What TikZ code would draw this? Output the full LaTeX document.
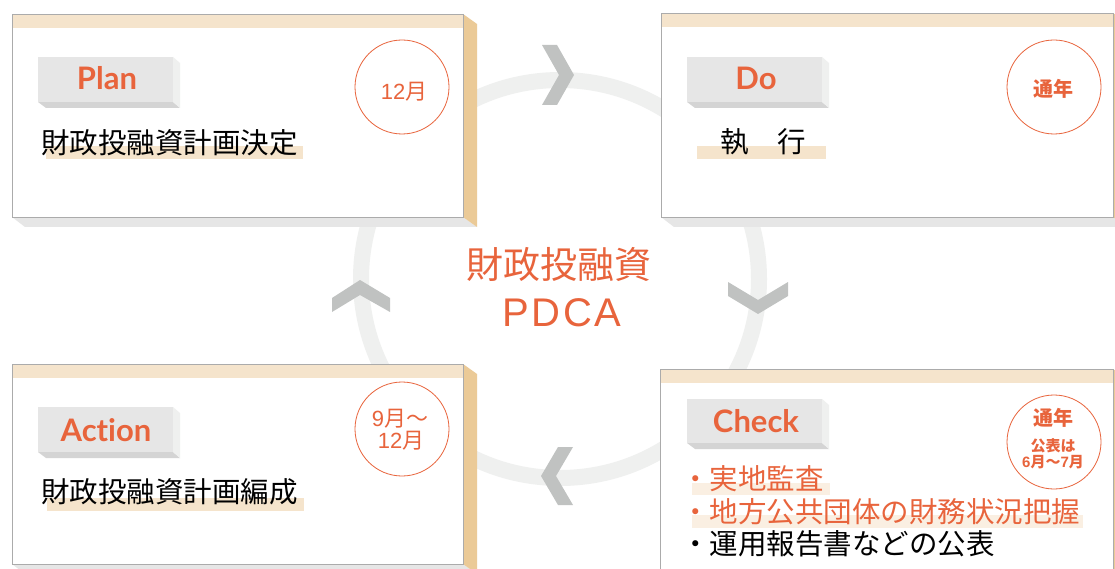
\documentclass[tikz,border=0pt]{standalone}
\usepackage{fontspec}
\newfontfamily\jp{Noto Sans CJK JP}
\newfontfamily\lab{Lato}[Ligatures=NoCommon]
\newfontfamily\wide{Liberation Sans}
\definecolor{org}{HTML}{E8643C}
\definecolor{band}{HTML}{F5E4CC}
\definecolor{bandlight}{HTML}{FAEFE2}
\definecolor{sidebeige}{HTML}{EBCA97}
\definecolor{shadowgray}{HTML}{E6E6E6}
\definecolor{tabgray}{HTML}{E6E6E6}
\definecolor{tabside}{HTML}{EFF0EF}
\definecolor{tabbottom}{HTML}{D4D4D4}
\definecolor{ringgray}{HTML}{EFF0EF}
\definecolor{chevgray}{HTML}{C0C2C1}
\definecolor{bordergray}{HTML}{ABABAB}
\newcommand\pdcacard[4]{%
  \fill[shadowgray] (#1,#4) -- (#3,#4) -- (#3+14,#4+10) -- (#1+13,#4+10) -- cycle;
  \fill[sidebeige] (#3,#2) -- (#3+14,#2+10) -- (#3+14,#4+10) -- (#3,#4) -- cycle;
  \fill[white] (#1,#2) rectangle (#3,#4);
  \fill[band] (#1,#2) rectangle (#3,#2+14);
  \draw[bordergray, line width=0.9pt] (#1,#2) rectangle (#3,#4);
}
\newcommand\pdcatab[4]{%
  \fill[tabbottom] (#1,#4) -- (#3,#4) -- (#3+7,#4+6) -- (#1+8,#4+6) -- cycle;
  \fill[tabside] (#3,#2) -- (#3+7,#2+6) -- (#3+7,#4+6) -- (#3,#4) -- cycle;
  \fill[tabgray] (#1,#2) rectangle (#3,#4);
}
\begin{document}
\begin{tikzpicture}[x=1pt,y=-1pt,
  labtext/.style={font=\lab\bfseries\fontsize{31}{32}\selectfont, text=org, inner sep=0pt, anchor=base},
  maintext/.style={font=\jp\fontsize{28.5}{30}\selectfont, text=black, inner sep=0pt, anchor=west},
  ring/.style={draw=org, circle, minimum size=94pt, line width=0.8pt, inner sep=0pt},
  circtext/.style={font=\jp\fontsize{22}{23}\selectfont, text=org, inner sep=0pt},
  circbold/.style={font=\jp\bfseries\fontsize{20}{21}\selectfont, text=org, inner sep=0pt},
  circsmall/.style={font=\jp\bfseries\fontsize{15}{16}\selectfont, text=org, inner sep=0pt},
  chev/.style={fill=chevgray}
]
\useasboundingbox (0,0) rectangle (1115,569);
\clip (0,0) rectangle (1115,569);
\fill[white] (0,0) rectangle (1115,569);

% cycle ring
\draw[ringgray, line width=16pt] (560,279) circle[radius=199];

% chevrons
\fill[chev] (542,45) -- (557,45) -- (574,75) -- (557,105) -- (542,105) -- (559,75) -- cycle;
\fill[chev] (728,282) -- (758,300) -- (788,282) -- (788,296) -- (758,314) -- (728,296) -- cycle;
\fill[chev] (573,447) -- (558,447) -- (541,476) -- (558,505) -- (573,505) -- (556,476) -- cycle;
\fill[chev] (332,298) -- (360,280) -- (390,298) -- (390,312) -- (360,295) -- (332,312) -- cycle;

% cards
\pdcacard{12}{14}{463}{217}
\pdcacard{661}{13}{1113}{217}
\pdcacard{12}{364}{463}{564}
\pdcacard{660}{369}{1113}{585}

% tabs
\pdcatab{38}{57}{173}{102}
\pdcatab{687}{57}{822}{102}
\pdcatab{38}{407}{173}{452}
\pdcatab{687}{399}{822}{443}

\node[labtext] (planlab) at (107,90) {Plan};
\node[labtext] (dolab) at (756,90) {Do};
\node[labtext] (actlab) at (106,441) {Action};
\node[labtext] (chklab) at (756,432) {Check};

% highlights
\fill[band] (46,146) rectangle (303,159);
\fill[band] (697,146) rectangle (826,159);
\fill[band] (47,498) rectangle (304,511);
\fill[bandlight] (692,483) rectangle (830,495);
\fill[bandlight] (692,515) rectangle (1083,528);

% main texts
\node[maintext] (plantxt) at (41,143) {財政投融資計画決定};
\node[maintext] (dotxt) at (720,142) {執　行};
\node[maintext] (acttxt) at (41,492) {財政投融資計画編成};
\node[maintext, text=org] (chk1) at (681,479) {・実地監査};
\node[maintext, text=org] (chk2) at (681,512) {・地方公共団体の財務状況把握};
\node[maintext] (chk3) at (681,544) {・運用報告書などの公表};

% circles
\node[ring] (plancirc) at (402,87) {};
\node[ring] (docirc) at (1054,87) {};
\node[ring] (actcirc) at (402,429) {};
\node[ring] (chkcirc) at (1054,442) {};

\node[circtext] (plant) at (404,92) {{\wide 12}月};
\node[circbold] (dot) at (1053,89) {通年};
\node[circtext] (act1) at (400,419) {{\wide 9}月～};
\node[circtext] (act2) at (401,441) {{\wide 12}月};
\node[circbold] (chkt1) at (1053,418) {通年};
\node[circsmall] (chkt2) at (1053,446) {公表は};
\node[circsmall] (chkt3) at (1053,462) {{\wide\bfseries 6}月～{\wide\bfseries 7}月};

% center title
\node[font=\jp\fontsize{37}{40}\selectfont, text=org, inner sep=0pt] (title1) at (559,264) {財政投融資};
\node[font=\wide\fontsize{40}{44}\selectfont\addfontfeature{LetterSpace=6}, text=org, inner sep=0pt] (title2) at (562,313) {PDCA};
\end{tikzpicture}
\end{document}
